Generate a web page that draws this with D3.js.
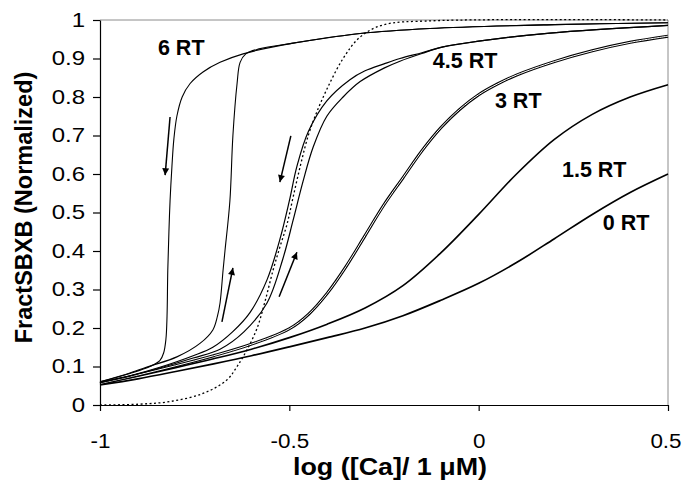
<!DOCTYPE html>
<html>
<head>
<meta charset="utf-8">
<script src="https://cdn.jsdelivr.net/npm/d3@7"></script>
<style>
  html, body { margin: 0; padding: 0; background: #fff; }
  svg { display: block; }
  text { font-family: "Liberation Sans", Arial, sans-serif; }
</style>
</head>
<body>
<svg id="chart" width="683" height="484"></svg>
<script>
// ---------- data ----------
const xTicks = [-1, -0.5, 0, 0.5];
const xTickLabels = ["-1", "-0.5", "0", "0.5"];
const yTicks = [0, 0.1, 0.2, 0.3, 0.4, 0.5, 0.6, 0.7, 0.8, 0.9, 1];
const yTickLabels = ["0", "0.1", "0.2", "0.3", "0.4", "0.5", "0.6", "0.7", "0.8", "0.9", "1"];

// steady-state (dotted) curve: [log Ca, FractSBXB]
const steadyState = [[-1.0,0.0],[-0.9,0.002],[-0.815,0.009],[-0.728,0.03],[-0.665,0.065],[-0.638,0.10],
  [-0.612,0.143],[-0.585,0.20],[-0.564,0.27],[-0.543,0.35],[-0.525,0.41],[-0.506,0.47],[-0.49,0.54],
  [-0.47,0.625],[-0.45,0.70],[-0.43,0.755],[-0.401,0.82],[-0.358,0.90],[-0.313,0.956],[-0.253,0.987],
  [-0.121,0.998],[0.5,1.0]];

// 6 RT: descending branch and ascending branch
const rt6Down = [[-1.0,0.06],[-0.921,0.082],[-0.868,0.10],[-0.842,0.115],[-0.832,0.135],[-0.826,0.17],
  [-0.823,0.23],[-0.821,0.35],[-0.818,0.45],[-0.815,0.53],[-0.810,0.62],[-0.805,0.69],[-0.797,0.75],
  [-0.783,0.80],[-0.762,0.835],[-0.728,0.865],[-0.683,0.89],[-0.622,0.912],[-0.490,0.94],[-0.313,0.965],
  [-0.129,0.978],[0.2,0.988],[0.5,0.993]];
const rt6Up = [[-1.0,0.06],[-0.921,0.083],[-0.868,0.101],[-0.797,0.125],[-0.736,0.16],[-0.702,0.195],
  [-0.690,0.23],[-0.683,0.265],[-0.675,0.35],[-0.670,0.40],[-0.657,0.53],[-0.649,0.70],[-0.638,0.835],
  [-0.630,0.89],[-0.615,0.912],[-0.58,0.925],[-0.490,0.94],[-0.313,0.965],[-0.129,0.978],[0.2,0.988],[0.5,0.993]];

// 4.5 RT: descending (left) and ascending (right) branches
const rt45Down = [[-1.0,0.058],[-0.921,0.076],[-0.842,0.098],[-0.754,0.128],[-0.702,0.15],[-0.65,0.19],
  [-0.604,0.24],[-0.559,0.325],[-0.525,0.43],[-0.500,0.53],[-0.480,0.62],[-0.450,0.71],[-0.401,0.79],
  [-0.340,0.845],[-0.30,0.868],[-0.25,0.886],[-0.208,0.90],[-0.15,0.915],[-0.094,0.93],[0.0,0.945],
  [0.188,0.966],[0.5,0.986]];
const rt45Up = [[-1.0,0.058],[-0.921,0.075],[-0.842,0.096],[-0.754,0.122],[-0.683,0.145],[-0.62,0.19],
  [-0.559,0.265],[-0.517,0.38],[-0.490,0.48],[-0.464,0.58],[-0.437,0.67],[-0.401,0.75],[-0.358,0.80],
  [-0.313,0.84],[-0.25,0.875],[-0.208,0.893],[-0.15,0.913],[-0.094,0.93],[0.0,0.945],[0.188,0.966],[0.5,0.986]];

// 3 RT, 1.5 RT, 0 RT
const rt3 = [[-1.0,0.056],[-0.9,0.078],[-0.8,0.102],[-0.7,0.128],[-0.6,0.158],[-0.5,0.198],[-0.45,0.235],
  [-0.4,0.29],[-0.35,0.36],[-0.3,0.44],[-0.25,0.52],[-0.2,0.59],[-0.15,0.66],[-0.1,0.72],[-0.05,0.768],
  [0.0,0.806],[0.05,0.834],[0.1,0.857],[0.2,0.892],[0.3,0.92],[0.4,0.942],[0.5,0.958]];
const rt15 = [[-1.0,0.054],[-0.9,0.075],[-0.8,0.097],[-0.7,0.12],[-0.6,0.145],[-0.5,0.175],[-0.4,0.21],
  [-0.3,0.252],[-0.2,0.31],[-0.1,0.395],[0.0,0.495],[0.1,0.60],[0.2,0.69],[0.3,0.755],[0.4,0.80],[0.5,0.832]];
const rt0 = [[-1.0,0.052],[-0.9,0.068],[-0.8,0.087],[-0.7,0.107],[-0.6,0.128],[-0.5,0.151],[-0.4,0.175],
  [-0.3,0.20],[-0.2,0.232],[-0.1,0.272],[0.0,0.316],[0.1,0.37],[0.2,0.432],[0.3,0.495],[0.4,0.552],[0.5,0.60]];

// curve labels: [text, x, y]
const curveLabels = [["6 RT",-0.847,0.909],["4.5 RT",-0.121,0.875],["3 RT",0.043,0.771],
  ["1.5 RT",0.220,0.592],["0 RT",0.328,0.455]];
// arrows: [x tail, y tail, x head, y head]
const arrows = [[-0.815,0.748,-0.828,0.597],[-0.678,0.216,-0.649,0.356],
  [-0.496,0.699,-0.525,0.579],[-0.527,0.281,-0.480,0.397]];

// ---------- drawing ----------
const svg = d3.select("#chart");
const L = 100, R = 668, T = 20, B = 405;
const x = d3.scaleLinear().domain([-1, 0.5]).range([L, R]);
const y = d3.scaleLinear().domain([0, 1]).range([B, T]);

// frame (top/right, grey)
svg.append("path")
  .attr("d", `M${x(-1)},${y(1)}H${x(0.5)}V${y(0)}`)
  .attr("fill", "none").attr("stroke", "#8c8c8c").attr("stroke-width", 1);

const line = d3.line().x(d => x(d[0])).y(d => y(d[1])).curve(d3.curveCatmullRom.alpha(0.5));
const g = svg.append("g");

function draw(data, opts) {
  g.append("path").datum(data).attr("d", line)
    .attr("fill", "none")
    .attr("stroke", opts.color || "#000")
    .attr("stroke-width", opts.w || 1.1)
    .attr("stroke-dasharray", opts.dash || null)
    .attr("stroke-linejoin", "round");
}

draw(rt0, {w: 1.7});
draw(rt15, {w: 1.6});
draw(rt3, {w: 3.0});
draw(rt3, {w: 1.0, color: "#fff"});
draw(rt45Down, {w: 1.2});
draw(rt45Up, {w: 1.2});
draw(rt6Down, {w: 1.1});
draw(rt6Up, {w: 1.1});
draw(steadyState, {w: 1.3, dash: "2,2.5"});

// arrows
const defs = svg.append("defs");
defs.append("marker").attr("id", "ah").attr("viewBox", "0 0 10 10")
  .attr("refX", 10).attr("refY", 5).attr("markerWidth", 10).attr("markerHeight", 7)
  .attr("markerUnits", "userSpaceOnUse").attr("orient", "auto")
  .append("path").attr("d", "M0,0L10,5L0,10Z").attr("fill", "#000");
g.selectAll("line.arrow").data(arrows).join("line").attr("class", "arrow")
  .attr("x1", d => x(d[0])).attr("y1", d => y(d[1]))
  .attr("x2", d => x(d[2])).attr("y2", d => y(d[3]))
  .attr("stroke", "#000").attr("stroke-width", 1.5)
  .attr("marker-end", "url(#ah)");

// labels
g.selectAll("text.cl").data(curveLabels).join("text").attr("class", "cl")
  .attr("x", d => x(d[1])).attr("y", d => y(d[2]))
  .attr("font-size", 21.5).attr("font-weight", "bold")
  .text(d => d[0]);

// axes
const xAxis = d3.axisBottom(x).tickValues(xTicks)
  .tickFormat((d, i) => xTickLabels[i]).tickSize(6).tickSizeOuter(0).tickPadding(23);
const gx = svg.append("g").attr("transform", `translate(0,${B})`).call(xAxis);
const yAxis = d3.axisLeft(y).tickValues(yTicks)
  .tickFormat((d, i) => yTickLabels[i]).tickSize(7).tickSizeOuter(0).tickPadding(8);
const gy = svg.append("g").attr("transform", `translate(${L},0)`).call(yAxis);
function stretch(a, sx, fs) {
  a.selectAll("text").attr("font-size", fs).attr("font-family", "'Liberation Sans', Arial, sans-serif").attr("fill", "#000")
    .each(function() {
      const t = d3.select(this);
      const xv = +t.attr("x") || 0;
      t.attr("x", xv / sx).attr("transform", `scale(${sx},1)`);
    });
  a.selectAll("line, path").attr("stroke", "#000").attr("stroke-width", 1.2);
}
stretch(gx, 1.15, 19.5);
stretch(gy, 1.2, 20);
// keep the last x label inside the picture, as in the reference
gx.selectAll(".tick").filter(d => d === 0.5).select("text").attr("dx", -2.2);

// axis titles
svg.append("text").attr("transform", "translate(390,475) scale(1.12,1)").attr("text-anchor", "middle")
  .attr("font-size", 24).attr("font-weight", "bold")
  .text("log ([Ca]/ 1 \u03BCM)");
svg.append("text").attr("transform", `translate(32,${(T + B) / 2 - 5}) rotate(-90)`)
  .attr("text-anchor", "middle").attr("font-size", 23.5).attr("font-weight", "bold")
  .text("FractSBXB (Normalized)");
</script>
</body>
</html>
